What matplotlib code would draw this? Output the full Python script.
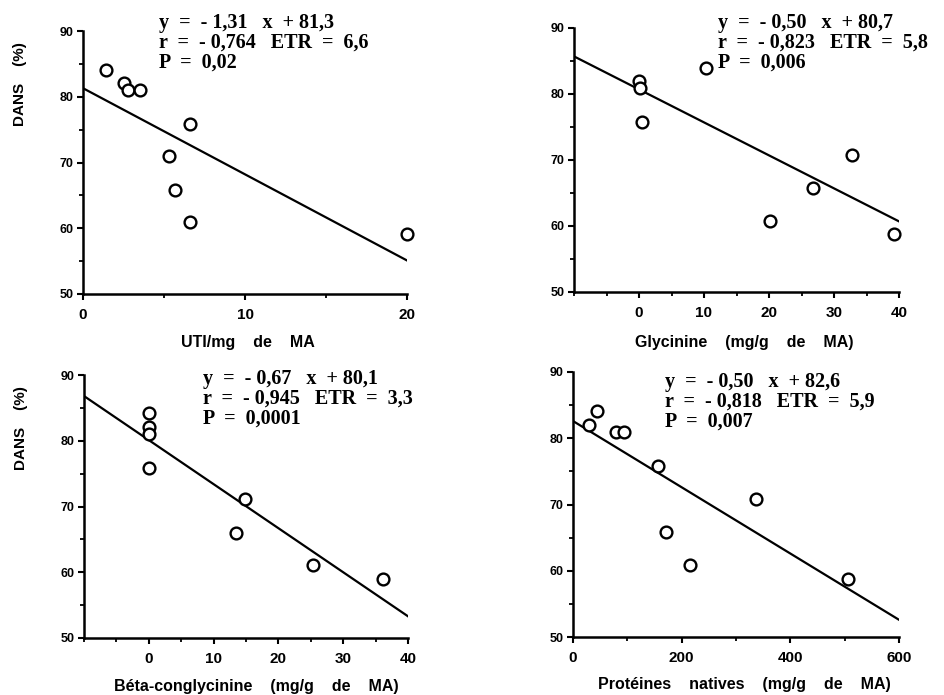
import matplotlib
matplotlib.use("Agg")
import matplotlib.pyplot as plt
import numpy as np
from matplotlib.ticker import MultipleLocator

# ---- data ----
uti_x = [1.4, 2.5, 2.8, 3.5, 6.6, 5.3, 5.7, 6.6, 20.0]
uti_y = [84.0, 82.1, 81.0, 81.0, 75.8, 71.0, 65.8, 60.9, 59.2]

gly_x = [0.0, 0.1, 0.5, 10.3, 20.2, 26.7, 32.7, 39.2]
gly_y = [82.0, 80.9, 75.8, 84.0, 60.8, 65.7, 70.8, 58.8]

beta_x = [0.0, 0.0, 0.0, 0.0, 14.8, 13.4, 25.3, 36.1]
beta_y = [84.2, 82.1, 81.1, 75.9, 71.1, 66.0, 61.1, 59.0]

prot_x = [29, 44, 79, 93, 156, 172, 216, 337, 506]
prot_y = [82.0, 84.1, 80.9, 80.9, 75.8, 65.8, 60.9, 70.9, 58.8]

slopes = [-1.31, -0.50, -0.67, -0.05]
intercepts = [81.3, 80.7, 80.1, 82.6]

xlabels = ["UTI/mg    de    MA", "Glycinine    (mg/g    de    MA)",
           "Béta-conglycinine    (mg/g    de    MA)", "Protéines    natives    (mg/g    de    MA)"]
ylabel = "DANS    (%)"
eq_texts = [
    ["y  =  - 1,31   x  + 81,3", "r  =  - 0,764   ETR  =  6,6", "P  =  0,02"],
    ["y  =  - 0,50   x  + 80,7", "r  =  - 0,823   ETR  =  5,8", "P  =  0,006"],
    ["y  =  - 0,67   x  + 80,1", "r  =  - 0,945   ETR  =  3,3", "P  =  0,0001"],
    ["y  =  - 0,50   x  + 82,6", "r  =  - 0,818   ETR  =  5,9", "P  =  0,007"],
]
xlims = [(0, 20), (-10, 40), (-10, 40), (0, 600)]
xmajor = [10, 10, 10, 200]
xminor = [5, 5, 5, 100]

W, H = 944, 695
fig = plt.figure(figsize=(W / 100, H / 100), dpi=100)

# axes boxes in pixels: left, right, top, bottom
boxes = [(83, 407, 31, 294), (574, 899, 28, 292), (84, 408, 375, 638), (573, 899, 372, 637)]
# equation text positions (pixel x of left edge, pixel y of first line centre)
eq_pos = [(159, 23), (718, 23), (203, 379), (665, 382)]
datasets = [(uti_x, uti_y), (gly_x, gly_y), (beta_x, beta_y), (prot_x, prot_y)]
xlabel_pos = [(248, 342), (744, 342), (256, 687), (744, 685)]

sans = ["Liberation Sans", "DejaVu Sans"]
serif = ["Liberation Serif", "DejaVu Serif"]

for i in range(4):
    l, r, t, b = boxes[i]
    ax = fig.add_axes([l / W, 1 - b / H, (r - l) / W, (b - t) / H])
    x, y = datasets[i]
    ax.scatter(x, y, s=72, facecolors="white", edgecolors="black", linewidths=1.7, zorder=3, clip_on=False)
    x0, x1 = xlims[i]
    xs = np.array([x0, x1])
    ax.plot(xs, slopes[i] * xs + intercepts[i], color="black", lw=1.6, zorder=2)
    ax.set_xlim(x0, x1)
    ax.set_ylim(50, 90)
    for s in ["top", "right"]:
        ax.spines[s].set_visible(False)
    for s in ["left", "bottom"]:
        ax.spines[s].set_linewidth(1.8)
    ax.xaxis.set_major_locator(MultipleLocator(xmajor[i]))
    ax.xaxis.set_minor_locator(MultipleLocator(xminor[i]))
    ax.yaxis.set_major_locator(MultipleLocator(10))
    ax.yaxis.set_minor_locator(MultipleLocator(5))
    if i in (1, 2):
        ax.set_xticks([0, 10, 20, 30, 40])
    ax.tick_params(axis="both", which="major", direction="out", length=4, width=1.5)
    ax.tick_params(axis="both", which="minor", direction="out", length=3, width=1.3)
    ax.tick_params(axis="x", which="major", labelsize=11, pad=6)
    ax.tick_params(axis="y", which="major", labelsize=9, pad=3)
    for lab in ax.get_xticklabels() + ax.get_yticklabels():
        lab.set_fontweight("bold")
        lab.set_family(sans)
    if i in (0, 2):
        ax.set_ylabel(ylabel, fontsize=11, fontweight="bold", family=sans)
        ax.yaxis.set_label_coords(-0.172, 0.80)
    lx, ly = xlabel_pos[i]
    fig.text(lx / W, 1 - ly / H, xlabels[i], ha="center", va="center",
             fontsize=11.5, fontweight="bold", family=sans)
    ex, ey = eq_pos[i]
    for k, line in enumerate(eq_texts[i]):
        fig.text(ex / W, 1 - (ey + 20 * k) / H, line, ha="left", va="center",
                 fontsize=14.5, fontweight="bold", family=serif)

fig.savefig("out.png", dpi=100)
